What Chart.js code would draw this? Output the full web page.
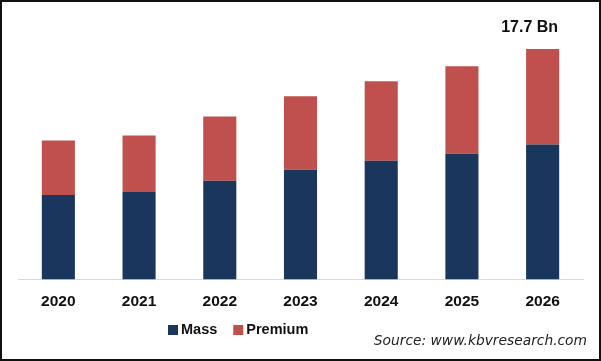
<!DOCTYPE html>
<html>
<head>
<meta charset="utf-8">
<script src="https://cdn.jsdelivr.net/npm/chart.js@4"></script>
<style>
  body { margin: 0; background: #fff; }
  #wrap { position: relative; width: 601px; height: 361px; }
  #frame { position: absolute; left: 0; top: 0; width: 601px; height: 361px; box-sizing: border-box; border: 2px solid #111; pointer-events: none; }
</style>
</head>
<body>
<div id="wrap">
  <canvas id="marketChart" width="601" height="361"></canvas>
  <div id="frame"></div>
</div>
<script>
// Data (USD Bn)
const years = ["2020", "2021", "2022", "2023", "2024", "2025", "2026"]
const massValues = [6.49, 6.72, 7.57, 8.42, 9.12, 9.66, 10.36]
const premiumValues = [4.18, 4.33, 4.95, 5.65, 6.10, 6.72, 7.34]
const topLabel = "17.7 Bn"
const sourceText = "Source: www.kbvresearch.com"

const massColor = "#1b365d"
const premiumColor = "#c0504d"

// Value label over the last bar, plus legend and source line
const extrasPlugin = {
  id: "extras",
  afterDatasetsDraw(chart) {
    const ctx = chart.ctx
    const meta = chart.getDatasetMeta(1)
    const last = meta.data[meta.data.length - 1]
    ctx.save()
    ctx.fillStyle = "#111"
    ctx.font = "bold 16px 'Liberation Sans', Arial, sans-serif"
    ctx.textAlign = "center"
    ctx.textBaseline = "middle"
    ctx.fillText(topLabel, last.x - 13, last.y - 21)

    // legend
    ctx.font = "bold 14.5px 'Liberation Sans', Arial, sans-serif"
    ctx.textAlign = "left"
    let x = 168
    const y = 330
    chart.data.datasets.forEach((ds) => {
      ctx.fillStyle = ds.backgroundColor
      ctx.fillRect(x, y - 5, 10, 10)
      ctx.fillStyle = "#111"
      ctx.fillText(ds.label, x + 13, y)
      x += 13 + ctx.measureText(ds.label).width + 16
    })

    // source
    ctx.font = "italic 13.8px 'DejaVu Sans', sans-serif"
    ctx.textAlign = "right"
    ctx.fillStyle = "#222"
    ctx.fillText(sourceText, 587, 341)
    ctx.restore()
  },
}

const ctx = document.getElementById("marketChart").getContext("2d")
new Chart(ctx, {
  type: "bar",
  data: {
    labels: years,
    datasets: [
      {
        label: "Mass",
        data: massValues,
        backgroundColor: massColor,
        barPercentage: 0.41,
        categoryPercentage: 1,
      },
      {
        label: "Premium",
        data: premiumValues,
        backgroundColor: premiumColor,
        barPercentage: 0.41,
        categoryPercentage: 1,
      },
    ],
  },
  options: {
    responsive: false,
    animation: false,
    layout: {
      padding: { top: 19, left: 18, right: 18, bottom: 37 },
    },
    plugins: {
      legend: { display: false },
      tooltip: { enabled: false },
    },
    scales: {
      x: {
        stacked: true,
        grid: { display: false, drawTicks: false },
        border: { display: true, color: "#d9d9d9", width: 1 },
        ticks: {
          color: "#111",
          padding: 13,
          font: { family: "'Liberation Sans', Arial, sans-serif", size: 15.5, weight: "bold" },
        },
      },
      y: {
        stacked: true,
        display: false,
        min: 0,
        max: 20,
      },
    },
  },
  plugins: [extrasPlugin],
})
</script>
</body>
</html>
